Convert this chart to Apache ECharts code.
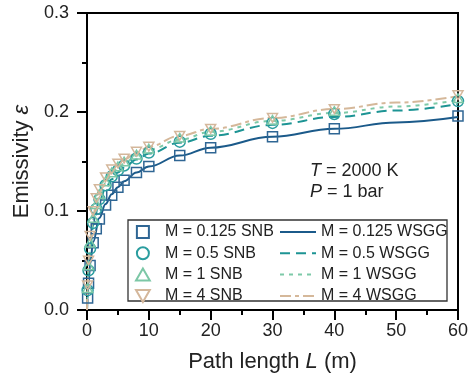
<!DOCTYPE html>
<html>
<head>
<meta charset="utf-8">
<script src="https://cdn.jsdelivr.net/npm/echarts@6/dist/echarts.min.js"></script>
<style>html,body{margin:0;padding:0;background:#fff;}#c{width:473px;height:378px;}</style>
</head>
<body>
<div id="c"></div>
<script>
// ---- data ----
var snbL = [0.1, 0.25, 0.5, 1, 1.5, 2, 3, 4, 5, 6, 8, 10, 15, 20, 30, 40, 60];
var snbM0125 = [0.012, 0.027, 0.045, 0.068, 0.082, 0.092, 0.106, 0.116, 0.124, 0.131, 0.139, 0.145, 0.156, 0.164, 0.175, 0.183, 0.196];
var snbM05   = [0.020, 0.040, 0.062, 0.088, 0.102, 0.112, 0.126, 0.135, 0.141, 0.146, 0.153, 0.159, 0.170, 0.178, 0.189, 0.198, 0.211];
var snbM1    = [0.022, 0.045, 0.068, 0.093, 0.107, 0.117, 0.130, 0.139, 0.145, 0.150, 0.157, 0.163, 0.174, 0.181, 0.192, 0.201, 0.214];
var snbM4    = [0.025, 0.050, 0.075, 0.100, 0.113, 0.122, 0.134, 0.142, 0.148, 0.153, 0.160, 0.165, 0.176, 0.183, 0.194, 0.203, 0.217];

var wsggL = [0, 0.05, 0.1, 0.25, 0.5, 1, 2, 3, 4, 5, 6, 8, 10, 15, 20, 30, 40, 50, 60];
var wsggM0125 = [0, 0.006, 0.012, 0.027, 0.046, 0.069, 0.093, 0.107, 0.117, 0.124, 0.130, 0.139, 0.145, 0.156, 0.164, 0.175, 0.183, 0.1895, 0.195];
var wsggM05   = [0, 0.010, 0.019, 0.040, 0.061, 0.086, 0.110, 0.123, 0.132, 0.139, 0.144, 0.152, 0.158, 0.169, 0.176, 0.187, 0.195, 0.2015, 0.208];
var wsggM1    = [0, 0.011, 0.021, 0.044, 0.066, 0.091, 0.115, 0.128, 0.137, 0.143, 0.148, 0.156, 0.162, 0.172, 0.180, 0.191, 0.199, 0.2055, 0.212];
var wsggM4    = [0, 0.012, 0.024, 0.049, 0.073, 0.098, 0.121, 0.133, 0.141, 0.147, 0.152, 0.159, 0.165, 0.176, 0.183, 0.194, 0.203, 0.2095, 0.216];

var snbNames  = ['M = 0.125 SNB', 'M = 0.5 SNB', 'M = 1 SNB', 'M = 4 SNB'];
var wsggNames = ['M = 0.125 WSGG', 'M = 0.5 WSGG', 'M = 1 WSGG', 'M = 4 WSGG'];
var yTicks = [0, 0.1, 0.2, 0.3];
var xTicks = [0, 10, 20, 30, 40, 50, 60];

// ---- styles ----
var FONT = 'Liberation Sans, Arial, sans-serif';
var snbColors  = ['#2f6694', '#2a9d9f', '#7cc7a6', '#d4b79b'];
var snbSymbols = ['path://M0,0 L10,0 L10,10 L0,10 Z', 'circle', 'path://M5,0 L10,8.7 L0,8.7 Z', 'path://M0,0 L10,0 L5,8.7 Z'];
var wsggColors = ['#1b5a8a', '#1d9494', '#7dc9a8', '#d5b89a'];
var wsggDash   = ['solid', [10, 6], [4, 5], [11, 4, 4, 4]];

function pairs(xs, ys) { return xs.map(function (x, i) { return [x, ys[i]]; }); }

var snbData = [snbM0125, snbM05, snbM1, snbM4];
var wsggData = [wsggM0125, wsggM05, wsggM1, wsggM4];

var series = [];
for (var i = 0; i < 4; i++) {
  series.push({
    name: wsggNames[i], type: 'line', data: pairs(wsggL, wsggData[i]),
    symbol: 'none', smooth: 0.4, smoothMonotone: 'x', z: 2,
    lineStyle: { color: wsggColors[i], width: 2, type: wsggDash[i] },
    itemStyle: { color: wsggColors[i] }
  });
}
for (var j = 0; j < 4; j++) {
  series.push({
    name: snbNames[j], type: 'scatter', data: pairs(snbL, snbData[j]),
    symbol: snbSymbols[j], symbolSize: j === 1 ? 11 : 10, symbolKeepAspect: true, z: 3,
    itemStyle: { color: 'rgba(255,255,255,0)', borderColor: snbColors[j], borderWidth: 1.5, opacity: 1 }
  });
}

var chart = echarts.init(document.getElementById('c'), null, { renderer: 'canvas' });
chart.setOption({
  animation: false,
  backgroundColor: '#fff',
  textStyle: { fontFamily: FONT },
  grid: { left: 87, top: 13, right: 15, bottom: 67, show: true, borderColor: '#000', borderWidth: 2, backgroundColor: 'transparent' },
  xAxis: {
    type: 'value', min: xTicks[0], max: xTicks[xTicks.length - 1], interval: 10,
    name: 'Path length {i|L} (m)', nameLocation: 'middle', nameGap: 41,
    nameTextStyle: { fontSize: 22, color: '#222', fontFamily: FONT, rich: { i: { fontStyle: 'italic', fontSize: 22, color: '#222', fontFamily: FONT } } },
    axisLine: { lineStyle: { color: '#000', width: 2 } },
    axisTick: { show: true, length: 10, lineStyle: { color: '#000', width: 2 } },
    minorTick: { show: true, splitNumber: 2, length: 5, lineStyle: { color: '#000', width: 2 } },
    splitLine: { show: false },
    axisLabel: { fontSize: 18, color: '#222', margin: 12, fontFamily: FONT }
  },
  yAxis: {
    type: 'value', min: yTicks[0], max: yTicks[yTicks.length - 1], interval: 0.1,
    name: 'Emissivity {i|ε}', nameLocation: 'middle', nameGap: 50,
    nameTextStyle: { fontSize: 22, color: '#222', fontFamily: FONT, rich: { i: { fontStyle: 'italic', fontSize: 22, color: '#222', fontFamily: FONT } } },
    axisLine: { lineStyle: { color: '#000', width: 2 } },
    axisTick: { show: true, length: 10, lineStyle: { color: '#000', width: 2 } },
    minorTick: { show: true, splitNumber: 2, length: 5, lineStyle: { color: '#000', width: 2 } },
    splitLine: { show: false },
    axisLabel: { fontSize: 18, color: '#222', margin: 18, fontFamily: FONT, formatter: function (v) { return v.toFixed(1); } }
  },
  legend: [
    {
      data: snbNames, orient: 'vertical', left: 135, top: 224, padding: 0,
      itemWidth: 34, itemHeight: 12, itemGap: 5.3, selectedMode: false, symbolKeepAspect: true,
      textStyle: { fontSize: 16, color: '#222', lineHeight: 14, fontFamily: FONT }
    },
    {
      data: wsggNames, orient: 'vertical', left: 279, top: 224, padding: 0,
      itemWidth: 36, itemHeight: 12, itemGap: 5.3, selectedMode: false,
      itemStyle: { color: 'rgba(0,0,0,0)', borderWidth: 0, opacity: 0 },
      textStyle: { fontSize: 16, color: '#222', lineHeight: 14, fontFamily: FONT }
    }
  ],
  graphic: [
    { type: 'rect', shape: { x: 128, y: 220, width: 319, height: 81 }, style: { fill: 'none', stroke: '#333', lineWidth: 1.3 }, z: 1 },
    { type: 'text', left: 310, top: 162, style: { text: '{i|T} = 2000 K', font: '18px ' + FONT, fill: '#222', rich: { i: { fontStyle: 'italic', fontSize: 18, fontFamily: FONT, fill: '#222' } } } },
    { type: 'text', left: 310, top: 183, style: { text: '{i|P} = 1 bar', font: '18px ' + FONT, fill: '#222', rich: { i: { fontStyle: 'italic', fontSize: 18, fontFamily: FONT, fill: '#222' } } } }
  ],
  series: series
});
</script>
</body>
</html>
